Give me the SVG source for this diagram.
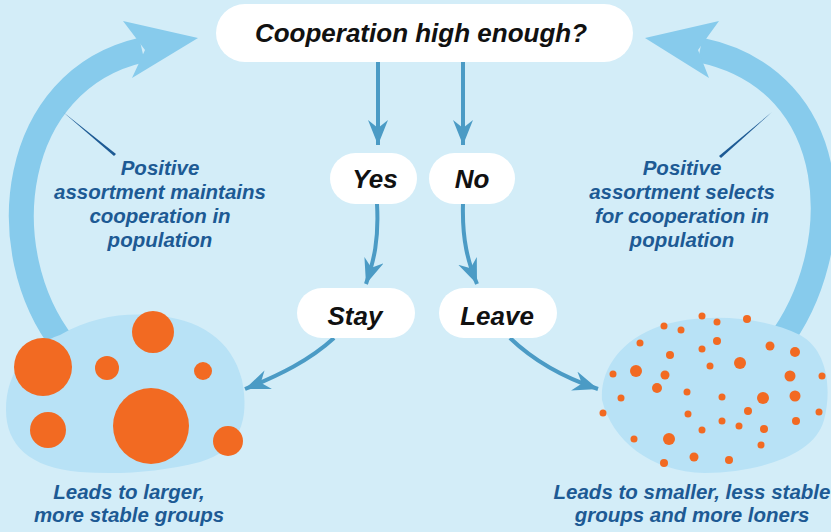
<svg xmlns="http://www.w3.org/2000/svg" width="831" height="532" viewBox="0 0 831 532">
  <style>
    .band { fill: none; stroke: #87cbec; stroke-width: 25; }
    .head { fill: #87cbec; }
    .blob { fill: #b8e2f6; }
    .dot { fill: #f26a22; }
    .box { fill: #ffffff; }
    .q { font-family: "Liberation Sans", Arial, sans-serif; font-weight: bold; font-style: italic; fill: #111111; text-anchor: middle; }
    .lbl { font-family: "Liberation Sans", Arial, sans-serif; font-weight: bold; font-style: italic; fill: #1d5a94; text-anchor: middle; font-size: 20.5px; }
    .conn { fill: none; stroke: #4b9bc5; stroke-width: 4; }
    .ptr { fill: #1d5a94; }
  </style>
  <defs>
    <marker id="ah" markerUnits="userSpaceOnUse" markerWidth="26" markerHeight="22" refX="25" refY="10" orient="auto" viewBox="0 0 26 22">
      <path d="M0,0 L25,10 L0,20 L8,10 Z" fill="#4b9bc5"/>
    </marker>
  </defs>
  <rect width="831" height="532" fill="#d3edf8"/>

  <g id="loop-arrows">
    <path class="band" d="M 64 345 C -10 250, 10 80, 142 50"/>
    <polygon class="head" points="198,38 123,21 145,50 132,78"/>
    <path class="band" d="M 777 345 C 850 250, 845 80, 700 50"/>
    <polygon class="head" points="645,38 719,21 698,50 709,78"/>
    <polygon class="ptr" points="63,112 116,154 114,156"/>
    <polygon class="ptr" points="772,112 721,158 719,156"/>
  </g>

  <g id="connectors">
    <line class="conn" x1="378" y1="62" x2="378" y2="145" marker-end="url(#ah)"/>
    <line class="conn" x1="463" y1="62" x2="463" y2="145" marker-end="url(#ah)"/>
    <path class="conn" d="M 377 204 C 379 240, 374 260, 366 284" marker-end="url(#ah)"/>
    <path class="conn" d="M 463 204 C 462 240, 468 262, 477 284" marker-end="url(#ah)"/>
    <path class="conn" d="M 334 338 C 310 360, 280 375, 245 389" marker-end="url(#ah)"/>
    <path class="conn" d="M 510 338 C 535 362, 565 378, 598 389" marker-end="url(#ah)"/>
  </g>

  <g id="question">
    <rect class="box" x="216" y="4" width="417" height="58" rx="29"/>
    <text class="q" x="421" y="42" font-size="26">Cooperation high enough?</text>
  </g>
  <g id="yes">
    <rect class="box" x="330" y="153" width="87" height="51" rx="25.5"/>
    <text class="q" x="375" y="188" font-size="26">Yes</text>
  </g>
  <g id="no">
    <rect class="box" x="429" y="153" width="86" height="51" rx="25.5"/>
    <text class="q" x="472" y="188" font-size="26">No</text>
  </g>
  <g id="stay">
    <rect class="box" x="297" y="288" width="118" height="50" rx="25"/>
    <text class="q" x="355" y="325" font-size="26">Stay</text>
  </g>
  <g id="leave">
    <rect class="box" x="439" y="288" width="118" height="50" rx="25"/>
    <text class="q" x="497" y="325" font-size="26">Leave</text>
  </g>

  <g id="left-label">
    <text class="lbl" x="160" y="175">Positive</text>
    <text class="lbl" x="160" y="199">assortment maintains</text>
    <text class="lbl" x="160" y="223">cooperation in</text>
    <text class="lbl" x="160" y="247">population</text>
  </g>
  <g id="right-label">
    <text class="lbl" x="682" y="175">Positive</text>
    <text class="lbl" x="682" y="199">assortment selects</text>
    <text class="lbl" x="682" y="223">for cooperation in</text>
    <text class="lbl" x="682" y="247">population</text>
  </g>

  <g id="large-groups">
    <path class="blob" d="M 6 410 C 6 370, 30 345, 60 335 C 90 318, 120 313, 150 315 C 200 318, 232 340, 242 380 C 250 420, 240 450, 200 462 C 160 472, 120 475, 80 472 C 30 468, 6 445, 6 410 Z"/>
    <circle class="dot" cx="43" cy="367" r="29"/>
    <circle class="dot" cx="153" cy="332" r="21"/>
    <circle class="dot" cx="107" cy="368" r="12"/>
    <circle class="dot" cx="203" cy="371" r="9"/>
    <circle class="dot" cx="48" cy="430" r="18"/>
    <circle class="dot" cx="151" cy="426" r="38"/>
    <circle class="dot" cx="228" cy="441" r="15"/>
    <text class="lbl" x="129" y="499">Leads to larger,</text>
    <text class="lbl" x="129" y="522">more stable groups</text>
  </g>

  <g id="small-groups">
    <path class="blob" d="M 602 400 C 600 370, 620 340, 660 326 C 700 313, 760 315, 800 335 C 828 350, 832 390, 824 420 C 815 455, 760 472, 705 473 C 650 472, 612 440, 602 400 Z"/>
    <circle class="dot" cx="702" cy="316" r="3.5"/>
    <circle class="dot" cx="717" cy="322" r="3.5"/>
    <circle class="dot" cx="747" cy="319" r="4"/>
    <circle class="dot" cx="664" cy="326" r="3.5"/>
    <circle class="dot" cx="681" cy="330" r="3.5"/>
    <circle class="dot" cx="717" cy="341" r="4"/>
    <circle class="dot" cx="640" cy="343" r="3.5"/>
    <circle class="dot" cx="702" cy="349" r="3.5"/>
    <circle class="dot" cx="770" cy="346" r="4.5"/>
    <circle class="dot" cx="795" cy="352" r="5"/>
    <circle class="dot" cx="670" cy="355" r="4"/>
    <circle class="dot" cx="740" cy="363" r="6"/>
    <circle class="dot" cx="710" cy="366" r="3.5"/>
    <circle class="dot" cx="636" cy="371" r="6"/>
    <circle class="dot" cx="665" cy="375" r="4.5"/>
    <circle class="dot" cx="790" cy="376" r="5.5"/>
    <circle class="dot" cx="822" cy="376" r="3.5"/>
    <circle class="dot" cx="613" cy="374" r="3.5"/>
    <circle class="dot" cx="657" cy="388" r="5"/>
    <circle class="dot" cx="687" cy="392" r="3.5"/>
    <circle class="dot" cx="722" cy="397" r="3.5"/>
    <circle class="dot" cx="763" cy="398" r="6"/>
    <circle class="dot" cx="795" cy="396" r="5.5"/>
    <circle class="dot" cx="621" cy="398" r="3.5"/>
    <circle class="dot" cx="603" cy="413" r="3.5"/>
    <circle class="dot" cx="688" cy="414" r="3.5"/>
    <circle class="dot" cx="748" cy="411" r="4"/>
    <circle class="dot" cx="819" cy="412" r="3.5"/>
    <circle class="dot" cx="722" cy="421" r="3.5"/>
    <circle class="dot" cx="739" cy="426" r="3.5"/>
    <circle class="dot" cx="764" cy="429" r="4"/>
    <circle class="dot" cx="796" cy="421" r="4"/>
    <circle class="dot" cx="702" cy="430" r="3.5"/>
    <circle class="dot" cx="634" cy="439" r="3.5"/>
    <circle class="dot" cx="669" cy="439" r="6"/>
    <circle class="dot" cx="761" cy="445" r="3.5"/>
    <circle class="dot" cx="694" cy="457" r="4.5"/>
    <circle class="dot" cx="729" cy="460" r="4"/>
    <circle class="dot" cx="664" cy="463" r="4"/>
    <text class="lbl" x="692" y="499">Leads to smaller, less stable</text>
    <text class="lbl" x="692" y="522">groups and more loners</text>
  </g>
</svg>
